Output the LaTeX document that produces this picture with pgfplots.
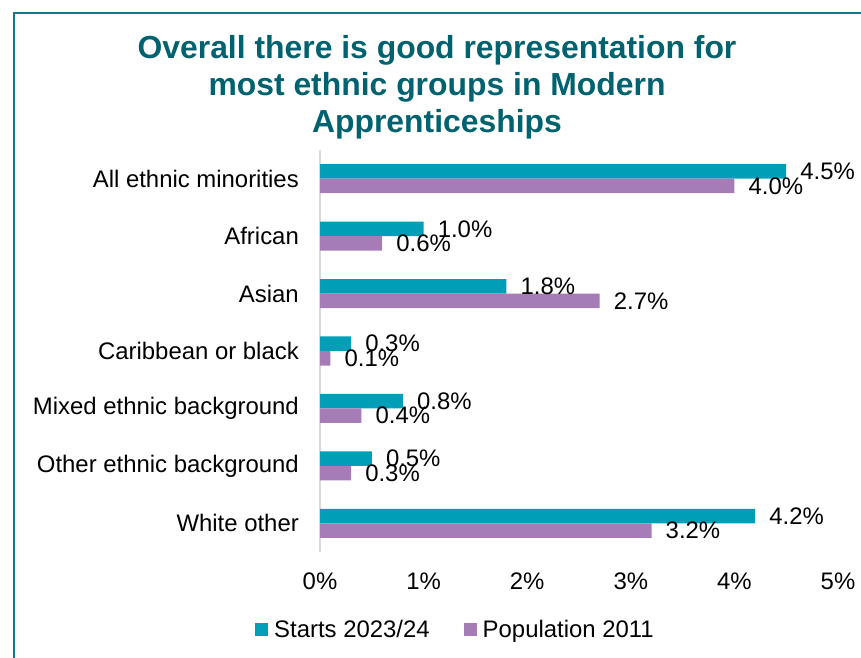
\documentclass[border=0pt]{standalone}
\usepackage{fontspec}
\setmainfont{Liberation Sans}
\usepackage{pgfplots}
\pgfplotsset{compat=1.18}
\definecolor{tealbar}{HTML}{009FB7}
\definecolor{purplebar}{HTML}{A57CB6}
\definecolor{titleteal}{HTML}{00626F}
\definecolor{frameteal}{HTML}{137A8C}
\begin{document}
\begin{tikzpicture}[x=1bp,y=1bp]
\useasboundingbox (0,0) rectangle (861,658);
\draw[frameteal, line width=1.6bp] (14,-20) -- (14,645) -- (900,645);
\node[font=\fontsize{32}{37}\selectfont\bfseries, text=titleteal, align=center, anchor=north, inner sep=0pt] at (437,623)
  {Overall there is good representation for\\most ethnic groups in Modern\\Apprenticeships};
\begin{axis}[
  at={(320bp,106bp)}, anchor=south west, scale only axis,
  width=518bp, height=402bp,
  xmin=0, xmax=5, ymin=-0.5, ymax=6.5, y dir=reverse,
  xbar, bar width=14.5bp,
  /pgf/number format/assume math mode=true,
  axis y line*=left, axis x line*=bottom,
  x axis line style={draw=none},
  y axis line style={-, draw=black!15, line width=1.2bp},
  major tick length=0pt,
  ytick={0,1,2,3,4,5,6},
  yticklabels={All ethnic minorities, African, Asian, Caribbean or black, Mixed ethnic background, Other ethnic background, White other},
  xtick={0,1,2,3,4,5},
  xticklabel={\pgfmathprintnumber{\tick}\%},
  yticklabel style={font=\fontsize{24}{28}\selectfont, inner sep=0pt, anchor=east, xshift=-21bp},
  xticklabel style={font=\fontsize{24}{28}\selectfont, inner sep=0pt, anchor=north, yshift=-21bp},
  nodes near coords={\pgfmathprintnumber[fixed,fixed zerofill,precision=1]{\pgfplotspointmeta}\%},
  nodes near coords style={font=\fontsize{24}{28}\selectfont, anchor=west, inner sep=0pt, xshift=14bp, text=black},
  legend columns=2,
  legend style={at={(-0.1255,-0.194)}, anchor=west, draw=none, fill=none, inner sep=0pt,
    font=\fontsize{24}{28}\selectfont,
    nodes={inner sep=0pt},
    /tikz/every odd column/.style={column sep=6bp},
    /tikz/every even column/.style={column sep=34bp}},
  legend image code/.code={\fill[#1] (0bp,-6.5bp) rectangle (13bp,6.5bp);},
]
\addplot[fill=tealbar, draw=none, bar shift=7.25bp] coordinates {(4.5,0) (1.0,1) (1.8,2) (0.3,3) (0.8,4) (0.5,5) (4.2,6)};
\addplot[fill=purplebar, draw=none, bar shift=-7.25bp] coordinates {(4.0,0) (0.6,1) (2.7,2) (0.1,3) (0.4,4) (0.3,5) (3.2,6)};
\legend{Starts 2023/24, Population 2011}
\end{axis}
\end{tikzpicture}
\end{document}
